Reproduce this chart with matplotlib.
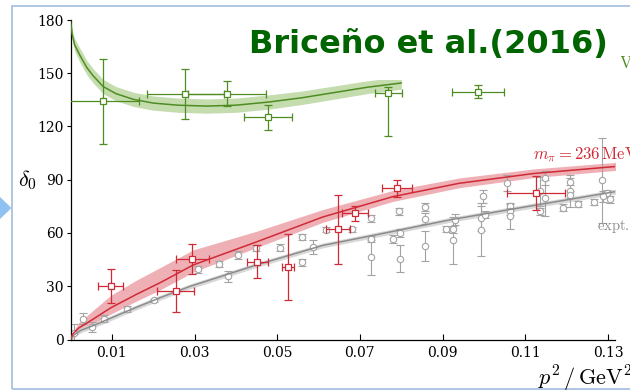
import matplotlib
matplotlib.use("Agg")
import matplotlib.pyplot as plt
from matplotlib.patches import Rectangle, Polygon

plt.rcParams["mathtext.fontset"] = "cm"

W, H = 630, 390

# ---- phase-shift curves (p^2 in GeV^2, delta_0 in degrees) ----
green_curve_p2 = [0, 0.0004, 0.0010, 0.0023, 0.0040, 0.0055, 0.0079, 0.0110, 0.0152,
                  0.0200, 0.0260, 0.0330, 0.0400, 0.0480, 0.0560, 0.0640, 0.0720, 0.0800]
green_curve_d = [180, 172, 166, 160, 153, 148.5, 142.5, 138.5, 135.3,
                 133.2, 132.0, 131.5, 132.0, 133.8, 136.2, 139.2, 142.2, 144.5]
green_band_w = [0, 2.5, 3.5, 4, 4, 4, 4, 4, 4, 4, 4, 4, 4, 4, 3.8, 3.7, 3.6, 3.5]

red_curve_p2 = [0, 0.0005, 0.002, 0.0055, 0.0097, 0.0160, 0.0216, 0.0297, 0.045,
                0.061, 0.078, 0.094, 0.112, 0.132]
red_curve_d = [0, 3, 6.5, 11.5, 17.8, 25.5, 31.9, 42.0, 55, 69, 80.5, 88, 93.5, 97.5]
red_band_hi = [0, 1, 3, 5, 7, 8, 8.5, 8.5, 6, 4.2, 3.5, 3, 2.6, 2.3]
red_band_lo = [0, 0.5, 1.5, 2.5, 3.5, 3.8, 4, 4, 3.2, 3, 2.7, 2.5, 2.3, 2.2]

expt_curve_p2 = [0, 0.0008, 0.0025, 0.0055, 0.010, 0.0136, 0.0216, 0.029, 0.045,
                 0.061, 0.075, 0.092, 0.110, 0.132]
expt_curve_d = [0, 2.5, 5.2, 7.8, 12.3, 15.9, 23.5, 30, 42, 53, 59.5, 67.5, 74.7, 83.4]
expt_band_w = 1.4

# ---- lattice points, m_pi = 391 MeV ----
g_p2 = [0.0079, 0.0278, 0.0378, 0.0478, 0.0769, 0.0986]
g_d = [134.1, 138.5, 138.5, 125.1, 138.8, 139.7]
g_xerr = [0.0087, 0.0093, 0.0095, 0.0058, 0.0032, 0.0063]
g_yerr_lo = [24, 14, 7.2, 6.9, 24, 3.5]
g_yerr_hi = [24, 14, 7.2, 6.9, 3.5, 3.5]

# ---- lattice points, m_pi = 236 MeV ----
r_p2 = [0.0097, 0.0254, 0.0295, 0.0452, 0.0526, 0.0647, 0.0688, 0.0790, 0.1126]
r_d = [30.2, 27.2, 45.4, 43.9, 40.9, 62.0, 71.1, 85.1, 82.5]
r_xerr = [0.0030, 0.0045, 0.0040, 0.0026, 0.0015, 0.0028, 0.0031, 0.0037, 0.0070]
r_yerr = [9.6, 11.8, 8.6, 9.1, 18.6, 19.2, 4.2, 4.9, 9.8]

# ---- experimental points ----
e_p2 = [0.00085, 0.0030, 0.0051, 0.0081, 0.0137, 0.0203, 0.0308, 0.0359, 0.0380,
        0.0406, 0.0449, 0.0507, 0.0561, 0.0560, 0.0587, 0.0619, 0.0680, 0.0727,
        0.0728, 0.0728, 0.0794, 0.0779, 0.0797, 0.0797, 0.0858, 0.0858, 0.0858,
        0.0908, 0.0926, 0.0926, 0.0930, 0.0994, 0.0994, 0.0998, 0.1002, 0.1056,
        0.1063, 0.1063, 0.1063, 0.1135, 0.1135, 0.1148, 0.1148, 0.1192, 0.1208,
        0.1208, 0.1208, 0.1228, 0.1267, 0.1286, 0.1297, 0.1305, 0.1287]
e_d = [3.5, 11.7, 7.3, 11.7, 17.4, 22.0, 39.5, 42.7, 35.6,
       47.6, 51.4, 51.7, 57.5, 43.5, 52.1, 61.9, 62.0, 68.2,
       56.6, 46.3, 72.2, 56.6, 60.0, 45.6, 74.5, 68.0, 52.9,
       62.3, 62.2, 55.8, 67.5, 68.4, 61.9, 80.6, 70.3, 88.0,
       75.0, 72.2, 69.4, 83.4, 72.2, 90.9, 79.7, 74.3, 89.0,
       83.4, 81.6, 76.4, 77.3, 89.7, 82.5, 79.1, 80.6]
e_err = [5, 3, 2.8, 2, 1.7, 0.8, 2, 1.6, 3.1,
         2.1, 1.6, 1.9, 1.7, 1.9, 4.2, 1.6, 1.6, 2.1,
         1.8, 10, 2, 2, 2, 7.8, 2.2, 3, 8.5,
         1.9, 2, 13, 3, 7, 15, 3.7, 2, 4.5,
         2, 2, 7, 8, 2, 3.8, 10, 2, 2,
         9, 2, 1.8, 1.8, 24, 2, 2, 3]

x_ticks = [0.01, 0.03, 0.05, 0.07, 0.09, 0.11, 0.13]
x_tick_labels = ["0.01", "0.03", "0.05", "0.07", "0.09", "0.11", "0.13"]
y_ticks = [0, 30, 60, 90, 120, 150, 180]

RED = "#cf2a36"
RED_BAND = "#efb0b5"
GREEN = "#4f8c22"
GREEN_BAND = "#c4dcae"
GRAY = "#8c8c8c"
GRAY_PT = "#a3a3a3"
GRAY_BAND = "#d8d8d8"


def fx(px):
    return px / W


def fy(py):
    return 1 - py / H


fig = plt.figure(figsize=(W / 100, H / 100), dpi=100)
fig.patch.set_facecolor("white")

# slide frame and bullet arrow
fig.patches.append(Rectangle((fx(12), fy(389)), 1.2, fy(6) - fy(389),
                             transform=fig.transFigure, fill=False,
                             edgecolor="#a9c3e2", linewidth=1.3, zorder=0))
fig.patches.append(Polygon([(fx(0), fy(197)), (fx(11.5), fy(208)), (fx(0), fy(219))],
                           closed=True, transform=fig.transFigure,
                           facecolor="#8fc1f2", edgecolor="none", zorder=0))

ax = fig.add_axes([fx(70.5), fy(339.5), fx(615) - fx(70.5), fy(20) - fy(339.5)])
ax.set_facecolor("none")
ax.set_xlim(0, 0.1317)
ax.set_ylim(0, 180)

# uncertainty bands
ax.fill_between(green_curve_p2,
                [d - w for d, w in zip(green_curve_d, green_band_w)],
                [d + w for d, w in zip(green_curve_d, green_band_w)],
                color=GREEN_BAND, lw=0, zorder=1)
ax.fill_between(red_curve_p2,
                [d - w for d, w in zip(red_curve_d, red_band_lo)],
                [d + w for d, w in zip(red_curve_d, red_band_hi)],
                color=RED_BAND, lw=0, zorder=1)
ax.fill_between(expt_curve_p2,
                [d - expt_band_w for d in expt_curve_d],
                [d + expt_band_w for d in expt_curve_d],
                color=GRAY_BAND, lw=0, zorder=1)

# experimental data
ax.errorbar(e_p2, e_d, yerr=e_err, fmt="o", ms=4.6, mfc="white", mec=GRAY_PT,
            mew=0.8, ecolor=GRAY_PT, elinewidth=0.8, capsize=2.6, capthick=0.8,
            zorder=2)

# central curves
ax.plot(expt_curve_p2, expt_curve_d, color=GRAY, lw=1.1, zorder=3)
ax.plot(red_curve_p2, red_curve_d, color=RED, lw=1.1, zorder=3)
ax.plot(green_curve_p2, green_curve_d, color=GREEN, lw=1.1, zorder=3)

# lattice data
ax.errorbar(r_p2, r_d, xerr=r_xerr, yerr=r_yerr, fmt="s", ms=4.2, mfc="white",
            mec=RED, mew=0.9, ecolor=RED, elinewidth=0.9, capsize=2.6,
            capthick=0.9, zorder=4)
ax.errorbar(g_p2, g_d, xerr=g_xerr, yerr=[g_yerr_lo, g_yerr_hi], fmt="s", ms=4.2,
            mfc="white", mec=GREEN, mew=0.9, ecolor=GREEN, elinewidth=0.9,
            capsize=2.6, capthick=0.9, zorder=4)

# curve labels
ax.text(0.1118, 101.8, r"$m_\pi = 236\,\mathrm{MeV}$", color=RED, fontsize=12,
        ha="left", va="baseline", clip_on=False)
ax.text(0.1273, 61.9, r"$\mathrm{expt.}$", color=GRAY, fontsize=10.5,
        ha="left", va="baseline", clip_on=False)
ax.text(0.1362, 153, r"$m_\pi = 391\,\mathrm{MeV}$", color=GREEN, fontsize=12,
        ha="right", va="baseline", clip_on=False)

# axes styling
for side in ("top", "right"):
    ax.spines[side].set_visible(False)
for side in ("left", "bottom"):
    ax.spines[side].set_linewidth(0.9)
ax.set_xticks(x_ticks)
ax.set_xticklabels(x_tick_labels)
ax.set_yticks(y_ticks)
ax.tick_params(axis="x", direction="in", length=4, width=0.8, pad=5)
ax.tick_params(axis="y", direction="out", length=3, width=0.8, pad=2)
for lab in ax.get_xticklabels() + ax.get_yticklabels():
    lab.set_fontfamily("DejaVu Serif")
    lab.set_fontsize(10)

fig.text(fx(27), fy(180), r"$\delta_0$", fontsize=16, ha="center", va="center")
fig.text(fx(538), fy(385), r"$p^2\,/\,\mathrm{GeV}^2$", fontsize=16,
         ha="left", va="baseline")

# title block
fig.patches.append(Rectangle((fx(200), fy(80)), fx(621) - fx(200), fy(10) - fy(80),
                             transform=fig.transFigure, facecolor="white",
                             edgecolor="none", zorder=1))
fig.text(fx(249), fy(53.5), "Briceño et al.(2016)", fontsize=23, fontweight="bold",
         color="#006400", family="DejaVu Sans", ha="left", va="baseline", zorder=3)

fig.savefig("out.png", dpi=100)
